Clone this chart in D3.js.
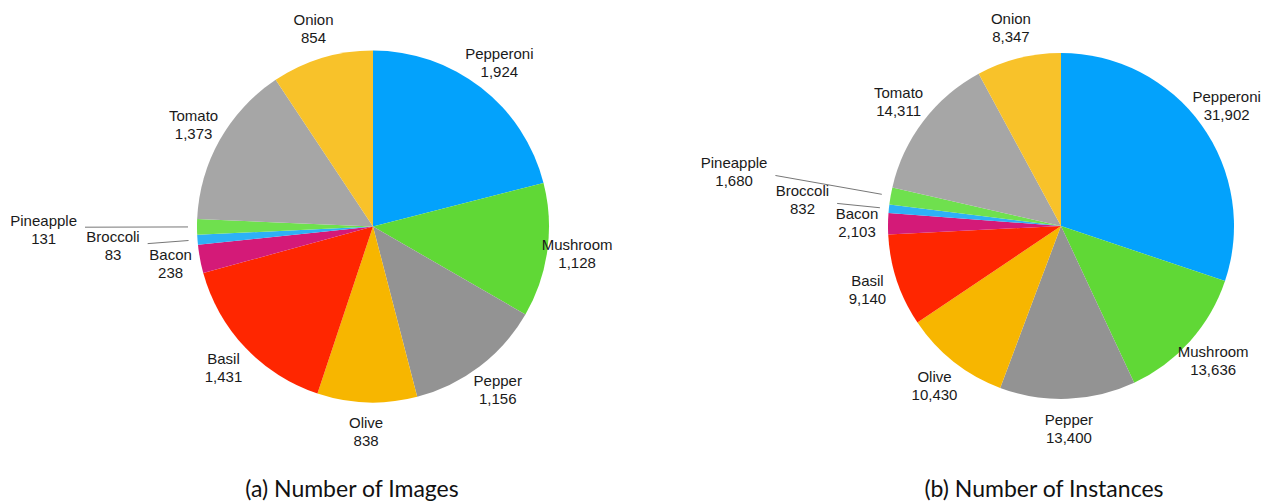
<!DOCTYPE html>
<html>
<head>
<meta charset="utf-8">
<script src="https://cdn.jsdelivr.net/npm/d3@7/dist/d3.min.js"></script>
<style>
  html, body { margin: 0; padding: 0; background: #fff; }
  svg { display: block; }
</style>
</head>
<body>
<div id="chart"></div>
<script>
// Toppings in clockwise order starting at 12 o'clock
const toppings = ['Pepperoni', 'Mushroom', 'Pepper', 'Olive', 'Basil', 'Bacon', 'Broccoli', 'Pineapple', 'Tomato', 'Onion'];
const imageCounts = [1924, 1128, 1156, 838, 1431, 238, 83, 131, 1373, 854];
const instanceCounts = [31902, 13636, 13400, 10430, 9140, 2103, 832, 1680, 14311, 8347];
const toppingColors = ['#03a2fc', '#60d836', '#939393', '#f7b600', '#ff2600', '#d41a78', '#2db1f6', '#6fe04e', '#a6a6a6', '#f8c22a'];
const captions = ['(a) Number of Images', '(b) Number of Instances'];

const width = 1262;
const height = 504;

// Layout knobs per pie: centre, radius, label ring, caption position, leader-line callouts.
const pieLayout = [
  { cx: 373, cy: 226.5, r: 176, labelR: 206, captionX: 352, callouts: { Pineapple: 288, Broccoli: 226 }, calloutDy: 3 },
  { cx: 1061, cy: 226, r: 173, labelR: 204, captionX: 1044, callouts: { Pineapple: 290, Broccoli: 225 }, calloutDy: -3 },
];

const labelFont = '"Liberation Sans", Arial, Helvetica, sans-serif';
const captionFont = 'Lato, "Open Sans", sans-serif';
const textColor = '#1a1a1a';
const fmt = d3.format(',');

const svg = d3.select('#chart')
  .append('svg')
  .attr('width', width)
  .attr('height', height);

const pie = d3.pie().sort(null).value((d) => d.value);

const polar = (angle, radius) => [radius * Math.sin(angle), -radius * Math.cos(angle)];

const addLabel = (g, x, y, d) => {
  const t = g.append('text')
    .attr('font-family', labelFont)
    .attr('font-size', 15)
    .attr('fill', textColor)
    .attr('text-anchor', 'middle');
  t.append('tspan').attr('x', x).attr('y', y - 4.5).text(d.data.name);
  t.append('tspan').attr('x', x).attr('y', y + 13.5).text(fmt(d.data.value));
  return t;
};

[imageCounts, instanceCounts].forEach((values, idx) => {
  const layout = pieLayout[idx];
  const data = toppings.map((name, i) => ({ name, value: values[i], color: toppingColors[i] }));
  const arcs = pie(data);
  const arc = d3.arc().innerRadius(0).outerRadius(layout.r);

  const g = svg.append('g').attr('transform', `translate(${layout.cx},${layout.cy})`);

  /* Slices */
  g.selectAll('path.slice')
    .data(arcs)
    .join('path')
    .attr('class', 'slice')
    .attr('d', arc)
    .attr('fill', (d) => d.data.color);

  /* Labels */
  arcs.forEach((d) => {
    const mid = (d.startAngle + d.endAngle) / 2;
    const calloutR = layout.callouts[d.data.name];

    if (calloutR) {
      // small slices: radial leader line, label right-aligned just past its outer end
      const [x0, y0] = polar(mid, layout.r + 9);
      const [x1, y1] = polar(mid, calloutR);
      g.append('line')
        .attr('x1', x0).attr('y1', y0)
        .attr('x2', x1).attr('y2', y1)
        .attr('stroke', '#777')
        .attr('stroke-width', 1);
      const t = addLabel(g, 0, y1 + layout.calloutDy, d);
      const w = t.node().getBBox().width;
      t.selectAll('tspan').attr('x', x1 - 8 - w / 2);
      return;
    }

    const [x, y] = polar(mid, layout.labelR);
    addLabel(g, x, y, d);
  });

  /* Caption */
  svg.append('text')
    .attr('x', layout.captionX)
    .attr('y', 497)
    .attr('text-anchor', 'middle')
    .attr('font-family', captionFont)
    .attr('font-size', 23)
    .attr('fill', '#111')
    .text(captions[idx]);
});
</script>
</body>
</html>
